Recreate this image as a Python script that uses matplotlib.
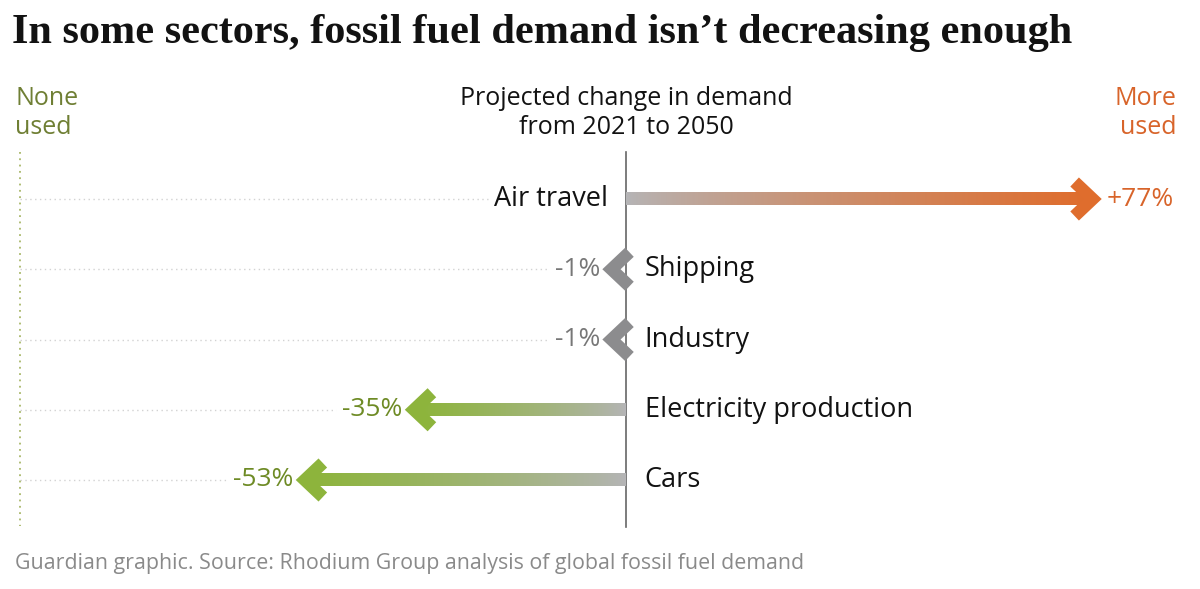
import numpy as np
import matplotlib.pyplot as plt
from matplotlib.colors import LinearSegmentedColormap

# data
sectors = ["Air travel", "Shipping", "Industry", "Electricity production", "Cars"]
change_pct = [77, -1, -1, -35, -53]

ORANGE = "#df6d2d"
GREEN = "#8db43c"
GREY_START = "#b5b5b7"
GREY_HEAD = "#8c8c8e"
ORANGE_TXT = "#d8642a"
GREEN_TXT = "#6e8b25"
OLIVE_TXT = "#6f7f34"

PX_PER_PCT = 6.06
ROW_PX = 70.25
W, H = 1200, 589
X0_PX, ROW0_PX = 626, 199

plt.rcParams["font.family"] = ["Open Sans", "DejaVu Sans"]

fig = plt.figure(figsize=(W / 100, H / 100), dpi=100)
ax = fig.add_axes([0, 0, 1, 1])
ax.set_xlim(-X0_PX / PX_PER_PCT, (W - X0_PX) / PX_PER_PCT)
ax.set_ylim((H - ROW0_PX) / ROW_PX, -ROW0_PX / ROW_PX)
ax.axis("off")

shaft_h = 13 / ROW_PX
head_back = 18 / PX_PER_PCT
head_half = 17 / ROW_PX
lw = 12.5 * 0.72

# guides
ax.plot([-100, -100], [-0.67, 4.65], color="#a9b86a", lw=1.3, ls=(0, (1, 2.5)))
ax.plot([0, 0], [-0.67, 4.67], color="#666666", lw=1.2)

label_fs = 19.5
value_fs = 19
fig.canvas.draw()
renderer = fig.canvas.get_renderer()
inv = ax.transData.inverted()

for i, (name, v) in enumerate(zip(sectors, change_pct)):
    sign = 1 if v > 0 else -1
    tip = sign * max(abs(v), 2.4)
    if v > 5:
        end_col, txt_col = ORANGE, ORANGE_TXT
    elif v < -5:
        end_col, txt_col = GREEN, GREEN_TXT
    else:
        end_col, txt_col = GREY_HEAD, "#777777"

    # shaft gradient
    if abs(v) > 5:
        cmap = LinearSegmentedColormap.from_list("g", [GREY_START, end_col])
        grad = np.linspace(0, 1, 256).reshape(1, -1) ** 0.8
        ax.imshow(grad, cmap=cmap, aspect="auto", interpolation="bilinear",
                  extent=[0, tip - sign * 1.2, i + shaft_h / 2, i - shaft_h / 2],
                  zorder=2)
    # chevron head
    ax.plot([tip - sign * head_back, tip, tip - sign * head_back],
            [i - head_half, i, i + head_half], color=end_col, lw=lw,
            solid_joinstyle="miter", solid_capstyle="butt", zorder=3)

    val_txt = f"+{v}%" if v > 0 else f"-{abs(v)}%"
    if v > 0:
        left_txt = ax.text(-3.0, i, name, ha="right", va="center",
                           fontsize=label_fs, color="#121212", zorder=4)
        ax.text(tip + 2.3, i, val_txt, ha="left", va="center",
                fontsize=value_fs, color=txt_col)
    else:
        ax.text(3.1, i, name, ha="left", va="center", fontsize=label_fs,
                color="#121212")
        left_txt = ax.text(tip - 1.9, i, val_txt, ha="right", va="center",
                           fontsize=value_fs, color=txt_col)
    bb = left_txt.get_window_extent(renderer)
    dot_end = inv.transform((bb.x0 - 6, 0))[0]
    ax.plot([-100, dot_end], [i, i], color="#d2d2d2", lw=1,
            ls=(0, (1, 2.5)), zorder=1)

# headers
hdr_y = (113 - ROW0_PX) / ROW_PX
ax.text(0, hdr_y, "Projected change in demand\nfrom 2021 to 2050", ha="center",
        va="center", fontsize=18, color="#121212", linespacing=1.22)
ax.text((15 - X0_PX) / PX_PER_PCT, hdr_y, "None\nused", ha="left",
        va="center", fontsize=18, color=OLIVE_TXT, linespacing=1.22)
ax.text((1176 - X0_PX) / PX_PER_PCT, hdr_y, "More\nused", ha="right",
        va="center", fontsize=18, color=ORANGE_TXT, linespacing=1.22)

fig.text(12 / W, 1 - 33 / H, "In some sectors, fossil fuel demand isn\u2019t decreasing enough",
         ha="left", va="center", fontsize=30.4, fontweight="bold",
         family=["Liberation Serif", "DejaVu Serif"], color="#121212")
fig.text(15 / W, 1 - 564 / H,
         "Guardian graphic. Source: Rhodium Group analysis of global fossil fuel demand",
         ha="left", va="center", fontsize=15.4, color="#8a8a8a")

fig.savefig("out.png", dpi=100, facecolor="white")
